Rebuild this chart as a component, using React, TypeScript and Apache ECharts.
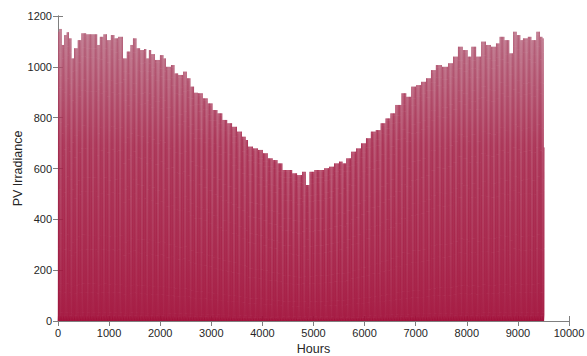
import React, { useEffect, useRef } from "react";
import * as echarts from "echarts";

// Envelope of daily peak irradiance (hour, peak)
const envHours = [
  0, 59, 84, 137, 190, 235, 280, 346, 411, 495, 587, 656, 724, 789, 855, 920, 979, 1076, 1149, 1213,
  1311, 1370, 1442, 1507, 1566, 1638, 1703, 1761, 1800, 1859, 1932, 2029, 2094, 2153, 2245, 2323, 2401, 2485, 2544, 2617,
  2714, 2779, 2877, 2975, 3072, 3170, 3268, 3366, 3464, 3562, 3660, 3693, 3757, 3855, 3953, 4051, 4149, 4247, 4345, 4442,
  4540, 4638, 4736, 4834, 4879, 4965, 5063, 5161, 5258, 5356, 5454, 5552, 5583, 5681, 5779, 5877, 5975, 6073, 6170, 6268,
  6366, 6464, 6562, 6660, 6758, 6855, 6953, 7051, 7149, 7247, 7345, 7442, 7574, 7671, 7769, 7867, 7965, 8063, 8127, 8225,
  8323, 8421, 8519, 8617, 8683, 8781, 8879, 8943, 9008, 9075, 9139, 9237, 9302, 9400, 9466, 9497, 9516,
];
const envPeaks = [
  1138, 1149, 1086, 1125, 1136, 1112, 1033, 1073, 1105, 1132, 1128, 1128, 1128, 1086, 1118, 1128, 1105, 1125, 1112, 1118,
  1033, 1060, 1086, 1112, 1073, 1066, 1070, 1033, 1066, 1050, 1027, 1046, 1033, 1000, 1007, 974, 968, 981, 955, 922,
  898, 896, 876, 856, 830, 817, 791, 778, 764, 745, 725, 712, 686, 679, 673, 660, 640, 633, 620, 594,
  594, 581, 574, 587, 535, 587, 594, 594, 601, 607, 620, 627, 620, 640, 666, 679, 699, 719, 745, 751,
  778, 797, 817, 850, 896, 882, 922, 928, 941, 955, 987, 1007, 1000, 1014, 1040, 1079, 1066, 1040, 1079, 1040,
  1099, 1086, 1079, 1092, 1118, 1105, 1053, 1138, 1125, 1105, 1112, 1118, 1105, 1138, 1118, 1112, 1138,
];
// Fraction of the day's peak for each hour of the day
const dayProfile = [
  0, 0, 0, 0, 0, 0.02, 0.1, 0.25, 0.45, 0.6, 0.8, 0.92, 0.99, 1, 0.95, 0.84, 0.68, 0.5, 0.3, 0.13, 0.03, 0, 0, 0,
];
const fullDays = 396;
const lastDayHours = 10;
const xTicks = { min: 0, max: 10000, interval: 1000 };
const yTicks = { min: 0, max: 1200, interval: 200 };

function nearestPeak(h: number): number {
  let best = 0;
  let bd = Infinity;
  for (let i = 0; i < envHours.length; i++) {
    const d = Math.abs(envHours[i] - h);
    if (d < bd) {
      bd = d;
      best = i;
    }
  }
  return envPeaks[best];
}

function buildData(): number[][] {
  const out: number[][] = [];
  for (let d = 0; d <= fullDays; d++) {
    const n = d < fullDays ? 24 : lastDayHours;
    const peak = nearestPeak(d * 24 + 12);
    for (let k = 0; k < n; k++) {
      out.push([d * 24 + k, Math.round(peak * dayProfile[k])]);
    }
  }
  return out;
}

export default function App() {
  const ref = useRef<HTMLDivElement>(null);
  useEffect(() => {
    if (!ref.current) return;
    const chart = echarts.init(ref.current, undefined, { renderer: "svg" });
    const font = "'Liberation Sans', Arial, Helvetica, sans-serif";
    const axisLine = { show: true, lineStyle: { color: "#7f7f7f", width: 1 } };
    const tick = { show: true, inside: true, length: 5, lineStyle: { color: "#7f7f7f" } };
    const label = { color: "#262626", fontSize: 11, fontFamily: font, formatter: (v: number) => String(v) };
    chart.setOption({
      animation: false,
      grid: { left: 58, right: 18, top: 16, bottom: 35, outerBoundsMode: "none" },
      xAxis: [
        {
          type: "value",
          ...xTicks,
          position: "bottom",
          axisLine,
          axisTick: tick,
          axisLabel: { ...label, margin: 6 },
          splitLine: { show: false },
          name: "Hours",
          nameLocation: "middle",
          nameGap: 21,
          nameTextStyle: { color: "#262626", fontSize: 12.5, fontFamily: font },
        },
        {
          type: "value",
          ...xTicks,
          position: "top",
          axisLine,
          axisTick: tick,
          axisLabel: { show: false },
          splitLine: { show: false },
        },
      ],
      yAxis: [
        {
          type: "value",
          ...yTicks,
          position: "left",
          axisLine,
          axisTick: tick,
          axisLabel: { ...label, margin: 6 },
          splitLine: { show: false },
          name: "PV Irradiance",
          nameLocation: "middle",
          nameGap: 34,
          nameMoveOverlap: false,
          nameTextStyle: { color: "#262626", fontSize: 12.5, fontFamily: font },
        },
        {
          type: "value",
          ...yTicks,
          position: "right",
          axisLine,
          axisTick: tick,
          axisLabel: { show: false },
          splitLine: { show: false },
        },
      ],
      series: [
        {
          type: "line",
          data: buildData(),
          showSymbol: false,
          silent: true,
          lineStyle: {
            width: 0.9,
            opacity: 0.85,
            color: new echarts.graphic.LinearGradient(0, 0, 0, 1, [
              { offset: 0, color: "#b05a74" },
              { offset: 0.4, color: "#a5264b" },
              { offset: 1, color: "#a1103a" },
            ]),
          },
          areaStyle: {
            opacity: 1,
            color: new echarts.graphic.LinearGradient(0, 0, 0, 1, [
              { offset: 0, color: "#c8879d" },
              { offset: 0.25, color: "#b84a69" },
              { offset: 0.5, color: "#ab2048" },
              { offset: 1, color: "#a3103a" },
            ]),
          },
        },
      ],
    });
    return () => chart.dispose();
  }, []);
  return (
    <div
      ref={ref}
      style={{ position: "absolute", left: 0, top: 0, width: 587, height: 356 }}
    />
  );
}
